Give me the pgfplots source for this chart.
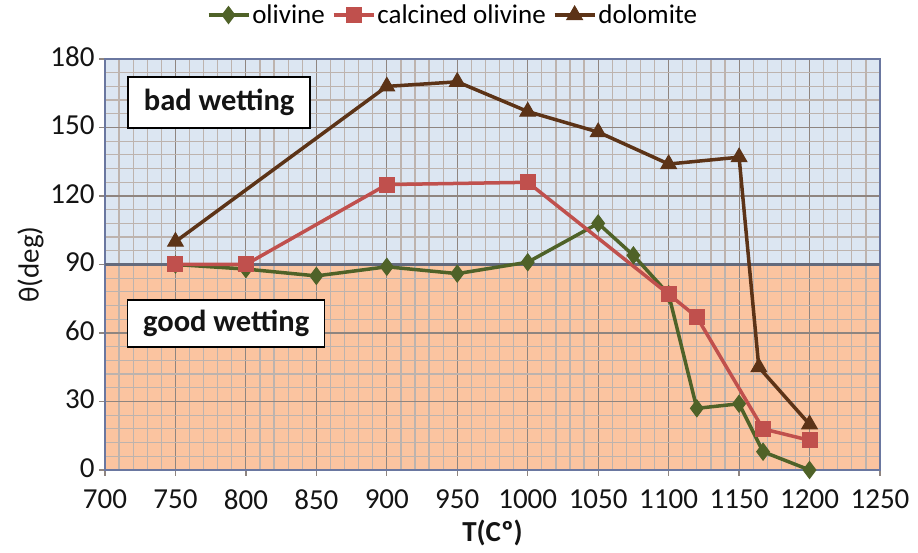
\documentclass[border=0pt]{standalone}
\usepackage{pgfplots}
\pgfplotsset{compat=1.18}
\usepackage{fontspec}
\setmainfont{Carlito}
\definecolor{oliv}{HTML}{4F6228}
\definecolor{calc}{HTML}{C0504D}
\definecolor{dolo}{HTML}{5C3317}
\definecolor{bgblue}{HTML}{DCE6F2}
\definecolor{bgorange}{HTML}{FBC4A0}
\definecolor{gridminor}{HTML}{BDB3AE}
\definecolor{gridmajor}{HTML}{8F8580}
\definecolor{axisblue}{HTML}{6A77A0}
\definecolor{ninety}{HTML}{646A7C}
\begin{document}
\begin{tikzpicture}
\begin{axis}[
  set layers,
  scale only axis,
  width=775pt, height=411pt,
  at={(0pt,0pt)}, anchor=south west,
  xmin=700, xmax=1250, ymin=0, ymax=180,
  xtick={700,750,...,1250}, ytick={0,30,...,180},
  minor x tick num=4, minor y tick num=4,
  grid=both,
  major grid style={color=gridmajor, line width=1.1pt},
  minor grid style={color=gridminor, line width=1.2pt},
  axis line style={color=axisblue, line width=2.2pt},
  tick align=outside,
  major tick length=6pt, minor tick length=0pt,
  tick style={color=gridmajor, line width=1.2pt},
  xtick pos=bottom, ytick pos=left,
  /pgf/number format/1000 sep={},
  /pgf/number format/assume math mode=true,
  tick label style={font=\fontsize{29}{31}\selectfont, text=black!92},
  xticklabel style={yshift=-10pt},
  yticklabel style={xshift=-1pt, yshift=2pt},
  xlabel={T(Cº)},
  xlabel style={font=\bfseries\fontsize{29}{31}\selectfont, text=black!92, yshift=-4pt},
  ylabel={θ(deg)},
  ylabel style={font=\fontsize{29}{31}\selectfont, text=black!92},
  legend style={at={(0.449,1.107)}, anchor=center, draw=none, fill=none,
    legend columns=3, font=\fontsize{27}{29}\selectfont,
    /tikz/every even column/.append style={column sep=5pt}},
  legend image code/.code={\draw[mark repeat=2,mark phase=2] plot coordinates {(0pt,0pt) (20pt,0pt) (40pt,0pt)};},
]
\begin{pgfonlayer}{axis background}
\fill[bgblue] (axis cs:700,90) rectangle (axis cs:1250,180);
\fill[bgorange] (axis cs:700,0) rectangle (axis cs:1250,90);
\end{pgfonlayer}
\draw[ninety, line width=2.6pt] (axis cs:700,90) -- (axis cs:1250,90);

\addplot[oliv, line width=3.5pt, mark=diamond*, mark size=8.5pt, mark options={solid, line width=1pt}] coordinates {
(750,90) (800,88) (850,85) (900,89) (950,86) (1000,91) (1050,108) (1075,94) (1100,77) (1120,27) (1150,29) (1167,8) (1200,0)};
\addlegendentry{olivine}
\addplot[calc, line width=3.5pt, mark=square*, mark size=7.5pt, mark options={line width=1pt}] coordinates {
(750,90) (800,90) (900,125) (1000,126) (1100,77) (1120,67) (1167,18) (1200,13)};
\addlegendentry{calcined olivine}
\addplot[dolo, line width=3.5pt, mark=triangle*, mark size=9pt, mark options={line width=1pt}] coordinates {
(750,100) (900,168) (950,170) (1000,157) (1050,148) (1100,134) (1150,137) (1164,45) (1200,20)};
\addlegendentry{dolomite}

\node[draw=black, line width=1.3pt, fill=white, minimum width=182pt, minimum height=51pt, inner sep=0pt, font=\bfseries\fontsize{30.5}{32}\selectfont, text=black!92] at (axis cs:781,161) {bad wetting};
\node[draw=black, line width=1.3pt, fill=white, minimum width=197pt, minimum height=47pt, inner sep=0pt, font=\bfseries\fontsize{30.5}{32}\selectfont, text=black!92] at (axis cs:786,64.2) {good wetting};
\end{axis}
\pgfresetboundingbox
\useasboundingbox (-105pt,-83pt) rectangle (813pt,470pt);
\end{tikzpicture}
\end{document}
